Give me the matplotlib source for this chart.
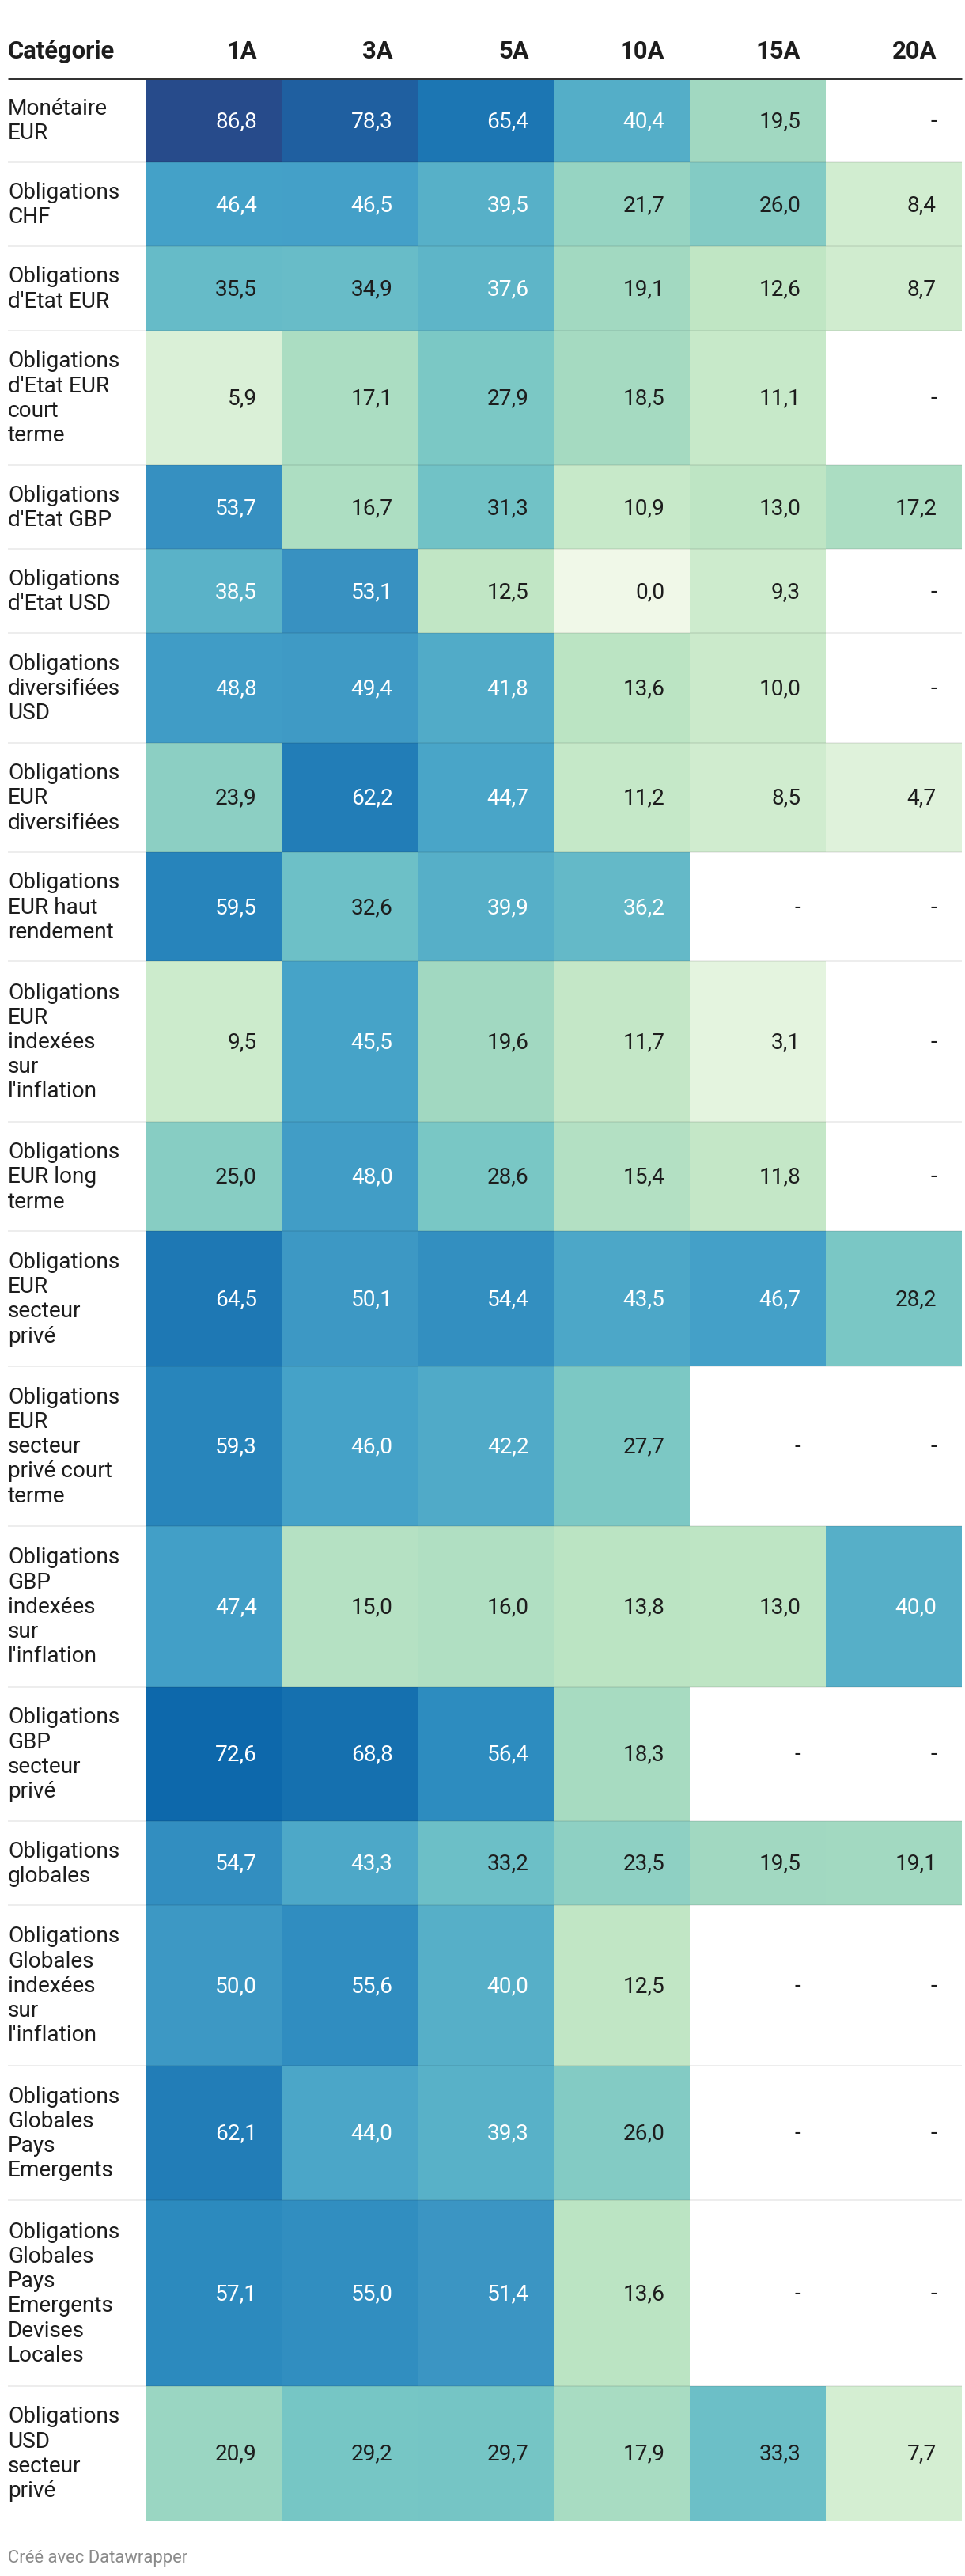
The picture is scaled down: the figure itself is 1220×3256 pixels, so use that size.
import numpy as np
import matplotlib.pyplot as plt
from matplotlib.colors import LinearSegmentedColormap

plt.rcParams['font.family'] = ['Roboto', 'DejaVu Sans']

columns = ["1A", "3A", "5A", "10A", "15A", "20A"]

categories = [
    "Monétaire\nEUR",
    "Obligations\nCHF",
    "Obligations\nd'Etat EUR",
    "Obligations\nd'Etat EUR\ncourt\nterme",
    "Obligations\nd'Etat GBP",
    "Obligations\nd'Etat USD",
    "Obligations\ndiversifiées\nUSD",
    "Obligations\nEUR\ndiversifiées",
    "Obligations\nEUR haut\nrendement",
    "Obligations\nEUR\nindexées\nsur\nl'inflation",
    "Obligations\nEUR long\nterme",
    "Obligations\nEUR\nsecteur\nprivé",
    "Obligations\nEUR\nsecteur\nprivé court\nterme",
    "Obligations\nGBP\nindexées\nsur\nl'inflation",
    "Obligations\nGBP\nsecteur\nprivé",
    "Obligations\nglobales",
    "Obligations\nGlobales\nindexées\nsur\nl'inflation",
    "Obligations\nGlobales\nPays\nEmergents",
    "Obligations\nGlobales\nPays\nEmergents\nDevises\nLocales",
    "Obligations\nUSD\nsecteur\nprivé",
]

nan = np.nan
values = np.array([
    [86.8, 78.3, 65.4, 40.4, 19.5, nan],
    [46.4, 46.5, 39.5, 21.7, 26.0, 8.4],
    [35.5, 34.9, 37.6, 19.1, 12.6, 8.7],
    [5.9, 17.1, 27.9, 18.5, 11.1, nan],
    [53.7, 16.7, 31.3, 10.9, 13.0, 17.2],
    [38.5, 53.1, 12.5, 0.0, 9.3, nan],
    [48.8, 49.4, 41.8, 13.6, 10.0, nan],
    [23.9, 62.2, 44.7, 11.2, 8.5, 4.7],
    [59.5, 32.6, 39.9, 36.2, nan, nan],
    [9.5, 45.5, 19.6, 11.7, 3.1, nan],
    [25.0, 48.0, 28.6, 15.4, 11.8, nan],
    [64.5, 50.1, 54.4, 43.5, 46.7, 28.2],
    [59.3, 46.0, 42.2, 27.7, nan, nan],
    [47.4, 15.0, 16.0, 13.8, 13.0, 40.0],
    [72.6, 68.8, 56.4, 18.3, nan, nan],
    [54.7, 43.3, 33.2, 23.5, 19.5, 19.1],
    [50.0, 55.6, 40.0, 12.5, nan, nan],
    [62.1, 44.0, 39.3, 26.0, nan, nan],
    [57.1, 55.0, 51.4, 13.6, nan, nan],
    [20.9, 29.2, 29.7, 17.9, 33.3, 7.7],
])

# colour scale
stops = [0.0, 9.3, 12.5, 19.1, 26.0, 29.7, 35.5, 38.5, 46.4, 53.1, 56.4, 64.5, 72.6, 78.3, 86.8]
stop_colors = ["#f0f8e8", "#cdebcd", "#c0e6c4", "#a2d9c1", "#82cbc4", "#75c5c5", "#66bbc8",
               "#5ab2c8", "#44a1c8", "#3891c1", "#2d8cbf", "#1e78b4", "#0c68ab", "#1f5fa0", "#274b8b"]
vmax = 86.8
cmap = LinearSegmentedColormap.from_list("dw", list(zip(np.array(stops) / vmax, stop_colors)))

W, H = 1220, 3256
fig = plt.figure(figsize=(W / 100, H / 100), dpi=100)
ax = fig.add_axes([0, 0, 1, 1])
ax.set_xlim(0, W)
ax.set_ylim(H, 0)
ax.axis('off')

px = 72 / 100  # points per pixel
fs = 28 * px

# layout
left = 10
right = 1216
top = 99
col_edges = np.linspace(185, right, len(columns) + 1)
n_lines = np.array([c.count("\n") + 1 for c in categories])
row_h = 42 + 32.1 * n_lines
row_edges = np.concatenate([[top], top + np.cumsum(row_h)])

masked = np.ma.masked_invalid(values)
ax.pcolormesh(col_edges, row_edges, masked, cmap=cmap, vmin=0, vmax=vmax, zorder=1)

# header
hfs = 31 * px
ax.text(left, 65, "Catégorie", fontsize=hfs, fontweight='bold', color='#1d1d1d', va='center', ha='left')
for j, c in enumerate(columns):
    ax.text(col_edges[j + 1] - 32, 65, c, fontsize=hfs, fontweight='bold', color='#1d1d1d',
            va='center', ha='right')
ax.plot([left, right], [top, top], color='#333333', lw=3 * px, solid_capstyle='butt', zorder=3)

for i, cat in enumerate(categories):
    yc = (row_edges[i] + row_edges[i + 1]) / 2
    ax.text(left, yc + 1, cat, fontsize=fs, color='#1d1d1d', va='center', ha='left', linespacing=1.2)
    for j in range(len(columns)):
        v = values[i, j]
        if np.isnan(v):
            txt, col = "-", '#1d1d1d'
        else:
            txt = f"{v:.1f}".replace(".", ",")
            col = 'white' if v >= 36 else '#1d1d1d'
        ax.text(col_edges[j + 1] - 32, yc + 1, txt, fontsize=fs, color=col, va='center', ha='right')
    if i > 0:
        ax.plot([left, right], [row_edges[i], row_edges[i]], color='black', alpha=0.07,
                lw=2 * px, solid_capstyle='butt', zorder=2)

ax.text(left, 3233, "Créé avec Datawrapper", fontsize=22 * px, color='#8a8a8a', va='center', ha='left')

fig.savefig("out.png", dpi=100)
